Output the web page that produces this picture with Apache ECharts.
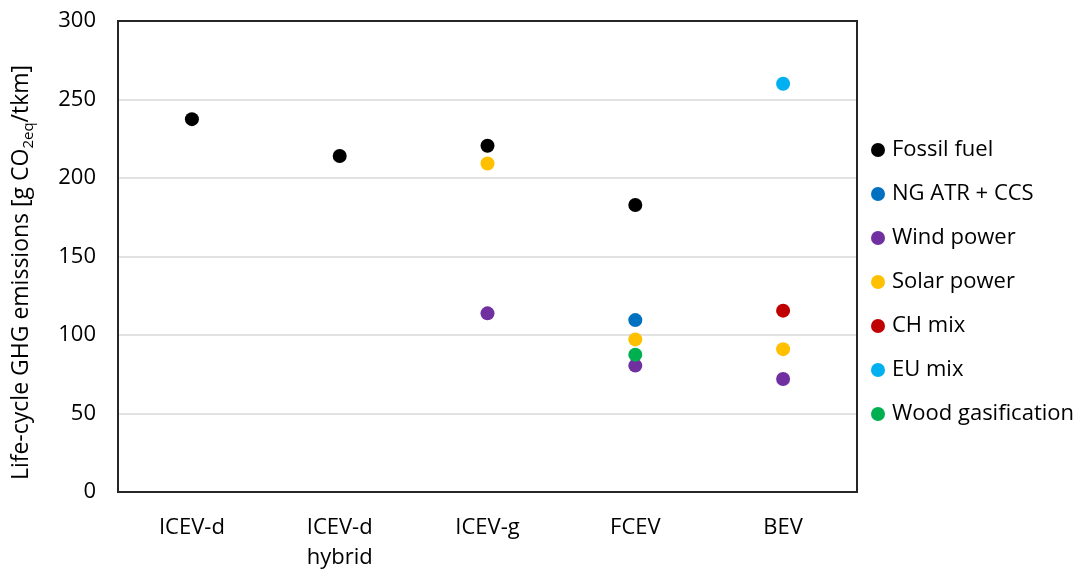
<!DOCTYPE html>
<html>
<head>
<meta charset="utf-8">
<script src="https://cdn.jsdelivr.net/npm/echarts@6/dist/echarts.min.js"></script>
<style>
  html, body { margin: 0; padding: 0; background: #fff; }
  #chart { width: 1075px; height: 573px; }
</style>
</head>
<body>
<div id="chart"></div>
<script>
// vehicle types on the x axis
const categories = ['ICEV-d', 'ICEV-d\nhybrid', 'ICEV-g', 'FCEV', 'BEV'];
const yTicks = [0, 50, 100, 150, 200, 250, 300];

// g CO2eq/tkm per energy source, null where not applicable
const fossilFuel = [237.5, 214, 220.5, 182.8, null];
const ngAtrCcs   = [null, null, null, 109.5, null];
const windPower  = [null, null, 113.8, 80.5, 72];
const solarPower = [null, null, 209.2, 97.2, 91];
const chMix      = [null, null, null, null, 115.5];
const euMix      = [null, null, null, null, 260];
const woodGas    = [null, null, null, 87.5, null];

const font = 'Open Sans';
const fs = 22;

const chart = echarts.init(document.getElementById('chart'));

const mk = (name, data, color) => ({
  name: name,
  type: 'scatter',
  data: data,
  symbol: 'circle',
  symbolSize: 14,
  itemStyle: { color: color, opacity: 1 },
  z: 3
});

chart.setOption({
  animation: false,
  textStyle: { fontFamily: font },
  grid: { left: 118, right: 218, top: 21, bottom: 81, show: true, borderColor: '#262626', borderWidth: 2, backgroundColor: 'transparent', z: 5 },
  legend: {
    orient: 'vertical',
    left: 866,
    top: 132,
    icon: 'circle',
    itemWidth: 14,
    itemHeight: 14,
    itemGap: 18,
    textStyle: { fontFamily: font, fontSize: fs, color: '#000', lineHeight: 26, padding: [0, 0, 0, 2] }
  },
  xAxis: {
    type: 'category',
    data: categories,
    boundaryGap: true,
    axisLine: { show: false },
    axisTick: { show: false },
    axisLabel: { color: '#000', fontSize: fs, fontFamily: font, margin: 21, lineHeight: 30, interval: 0 }
  },
  yAxis: {
    type: 'value',
    min: 0,
    max: yTicks[yTicks.length - 1],
    interval: 50,
    axisLine: { show: false },
    axisTick: { show: false },
    splitLine: { lineStyle: { color: '#d9d9d9', width: 1.5 } },
    axisLabel: { color: '#000', fontSize: fs, fontFamily: font, margin: 22 },
    name: '{a|Life-cycle GHG emissions [g CO}{s|2eq}{a|/tkm]}',
    nameLocation: 'middle',
    nameGap: 82,
    nameRotate: 90,
    nameTextStyle: {
      padding: [0, 32, 0, 0],
      rich: {
        a: { fontSize: 23, fontFamily: font, color: '#000', lineHeight: 30 },
        s: { fontSize: 15, fontFamily: font, color: '#000', lineHeight: 30, verticalAlign: 'bottom', padding: [10, 0, 0, 0] }
      }
    }
  },
  series: [
    mk('Fossil fuel', fossilFuel, '#000000'),
    mk('NG ATR + CCS', ngAtrCcs, '#0070C0'),
    mk('Wind power', windPower, '#7030A0'),
    mk('Solar power', solarPower, '#FFC000'),
    mk('CH mix', chMix, '#C00000'),
    mk('EU mix', euMix, '#00B0F0'),
    mk('Wood gasification', woodGas, '#00B050')
  ]
});
</script>
</body>
</html>
